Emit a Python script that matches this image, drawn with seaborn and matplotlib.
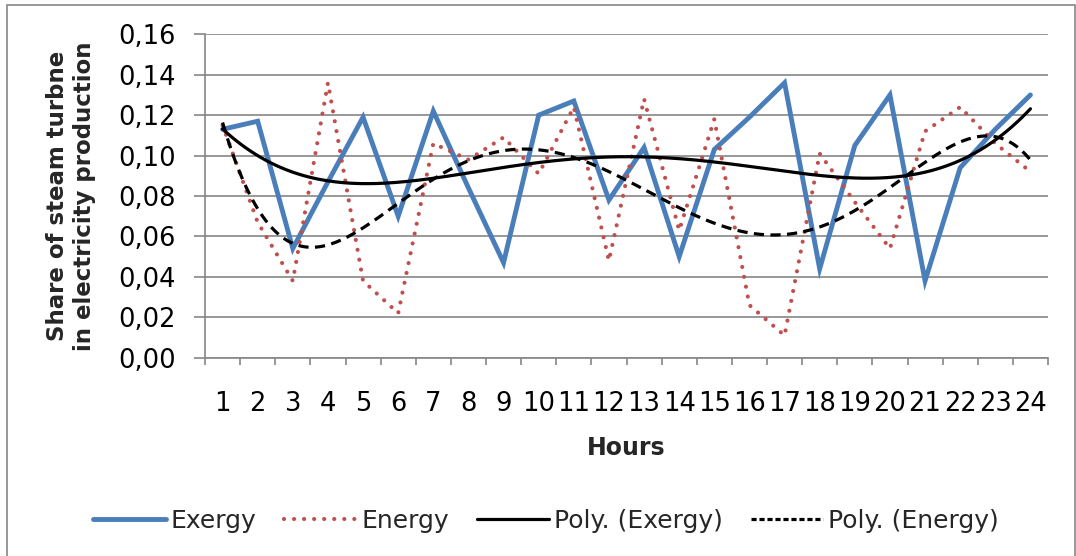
import numpy as np
import pandas as pd
import matplotlib
matplotlib.use("Agg")
import matplotlib.pyplot as plt
import seaborn as sns
from matplotlib.patches import Rectangle
from matplotlib.lines import Line2D

hours = list(range(1, 25))
exergy = [0.113, 0.117, 0.054, 0.087, 0.119, 0.070, 0.122, 0.084, 0.047, 0.120,
          0.127, 0.078, 0.104, 0.050, 0.103, 0.119, 0.136, 0.044, 0.105, 0.130,
          0.038, 0.094, 0.113, 0.130]
energy = [0.115, 0.067, 0.038, 0.136, 0.038, 0.022, 0.106, 0.098, 0.109, 0.091,
          0.124, 0.048, 0.128, 0.063, 0.118, 0.026, 0.011, 0.101, 0.077, 0.054,
          0.112, 0.124, 0.106, 0.092]
yticks = [0.00, 0.02, 0.04, 0.06, 0.08, 0.10, 0.12, 0.14, 0.16]
ytick_labels = ["0,00", "0,02", "0,04", "0,06", "0,08", "0,10", "0,12", "0,14", "0,16"]
series_labels = ["Exergy", "Energy", "Poly. (Exergy)", "Poly. (Energy)"]
poly_order_exergy = 4
poly_order_energy = 5

df = pd.DataFrame({"Hour": hours, "Exergy": exergy, "Energy": energy})

sns.set_theme(style="white")
plt.rcParams["font.family"] = ["DejaVu Sans"]

fig = plt.figure(figsize=(10.76, 5.56), dpi=100)
ax = fig.add_axes([205 / 1076, 198.3 / 556, (1048 - 205) / 1076, (521.7 - 198.3) / 556])

blue = "#4a7ebb"
red = "#c0504d"
grid = "#868686"
dot_style = (0, (0.01, 2.4))
dash_style = (0, (3.2, 2.0))

sns.lineplot(data=df, x="Hour", y="Exergy", ax=ax, color=blue, lw=3.5,
             solid_joinstyle="miter", legend=False)
sns.lineplot(data=df, x="Hour", y="Energy", ax=ax, color=red, lw=3.0,
             linestyle=dot_style, dash_capstyle="round", legend=False)

xs = np.linspace(1, 24, 300)
cx = np.polyfit(hours, exergy, poly_order_exergy)
ce = np.polyfit(hours, energy, poly_order_energy)
trend = pd.DataFrame({"Hour": xs, "PX": np.polyval(cx, xs), "PE": np.polyval(ce, xs)})
sns.lineplot(data=trend, x="Hour", y="PX", ax=ax, color="black", lw=2.3, legend=False)
sns.lineplot(data=trend, x="Hour", y="PE", ax=ax, color="black", lw=2.3,
             linestyle=dash_style, legend=False)

ax.set_xlim(0.5, 24.5)
ax.set_ylim(0, 0.16)
ax.set_yticks(yticks)
ax.set_yticklabels(ytick_labels)
ax.set_xticks(hours)
ax.set_xticklabels([str(h) for h in hours])
ax.set_xticks(np.arange(0.5, 25, 1), minor=True)
ax.yaxis.grid(True, color=grid, lw=1.2)
ax.set_axisbelow(True)
for s in ["top", "right"]:
    ax.spines[s].set_visible(False)
for s in ["left", "bottom"]:
    ax.spines[s].set_color(grid)
    ax.spines[s].set_linewidth(1.2)
ax.tick_params(axis="y", which="major", direction="out", length=8, width=1.2,
               color=grid, pad=13, labelsize=18.5, labelcolor="black", left=True)
ax.tick_params(axis="x", which="major", length=0, pad=24, labelsize=18.5, labelcolor="black")
ax.tick_params(axis="x", which="minor", direction="out", length=5, width=1.2,
               color=grid, bottom=True)

ax.set_xlabel("Hours", fontsize=17, fontweight="bold", labelpad=14)
ax.set_ylabel("Share of steam turbne\nin electricity production", fontsize=16.5,
              fontweight="bold", labelpad=16, linespacing=1.2)

handles = [
    Line2D([], [], color=blue, lw=3.5),
    Line2D([], [], color=red, lw=3.0, linestyle=dot_style, dash_capstyle="round"),
    Line2D([], [], color="black", lw=2.3),
    Line2D([], [], color="black", lw=2.3, linestyle=(0, (1.6, 0.9))),
]
fig.legend(handles, series_labels,
           loc="center", bbox_to_anchor=(546 / 1076, 1 - 521 / 556), ncol=4,
           frameon=False, fontsize=18, handlelength=2.9, handletextpad=0.2,
           columnspacing=1.1)

fig.patches.append(Rectangle((7 / 1076, -0.02), (1075 - 7) / 1076, (551 + 11) / 556,
                             transform=fig.transFigure, fill=False,
                             edgecolor=grid, lw=1.2))

fig.savefig("out.png", dpi=100)
